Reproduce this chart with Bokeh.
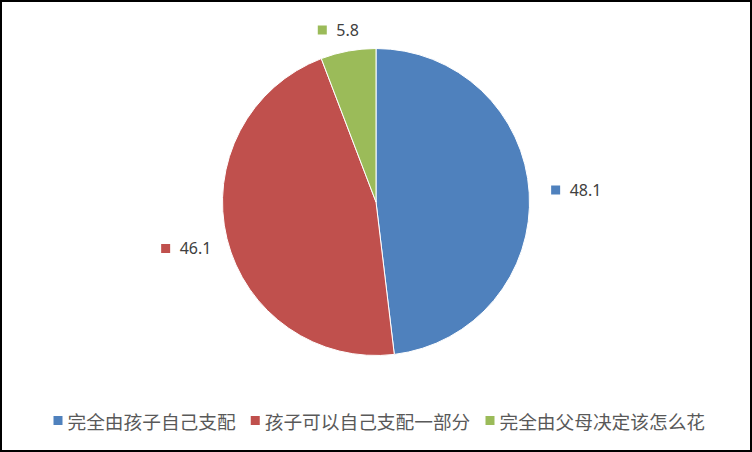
import numpy as np
from bokeh.plotting import figure
from bokeh.models import Range1d
from bokeh.core.properties import value
from bokeh.embed import file_html
from bokeh.resources import INLINE

# data
categories = ["完全由孩子自己支配", "孩子可以自己支配一部分", "完全由父母决定该怎么花"]
shares = [48.1, 46.1, 5.8]
share_labels = ["48.1", "46.1", "5.8"]
colors = ["#4F81BD", "#C0504D", "#9BBB59"]

W, H = 752, 452
# plot units = pixels of the picture, y counted upwards
cx, cy, r = 375.5, H - 201.5, 153.5
lab_dist = [202, 194, 175]   # distance of each label box from the centre

frac = np.array(shares) / sum(shares)
cum = np.concatenate([[0], np.cumsum(frac)])
start = np.pi / 2 - cum[:-1] * 2 * np.pi
end = np.pi / 2 - cum[1:] * 2 * np.pi
mid = (start + end) / 2

p = figure(width=W, height=H, x_range=Range1d(0, W), y_range=Range1d(0, H),
           output_backend="svg", toolbar_location=None, tools="", min_border=0)
p.axis.visible = False
p.grid.visible = False
p.outline_line_color = "black"
p.outline_line_width = 3
p.background_fill_color = "white"

p.wedge(x=cx, y=cy, radius=r, start_angle=start, end_angle=end, direction="clock",
        fill_color=colors, line_color="white", line_width=1)

# data labels with small colour key
bx = cx + np.array(lab_dist) * np.cos(mid)
by = cy + np.array(lab_dist) * np.sin(mid)
p.rect(x=bx - 22, y=by, width=9, height=9, fill_color=colors, line_color=None)
p.text(x=bx - 8, y=by, text=share_labels, text_font=value("Noto Sans"),
       text_font_size="16px", text_color="#404040",
       text_align="left", text_baseline="middle")

# legend along the bottom
ch = 18.75
lx = []
x = 57.5
for c in categories:
    lx.append(x)
    x = x + 9.5 + len(c) * ch + 19
lx = np.array(lx)
ly = H - 420
p.rect(x=lx, y=ly, width=9, height=9, fill_color=colors, line_color=None)
p.text(x=lx + 9.5, y=ly, text=categories, text_font=value("Noto Sans CJK SC"),
       text_font_size="18.7px", text_color="#595959",
       text_align="left", text_baseline="middle")

open("out.html", "w").write(file_html(p, INLINE))
